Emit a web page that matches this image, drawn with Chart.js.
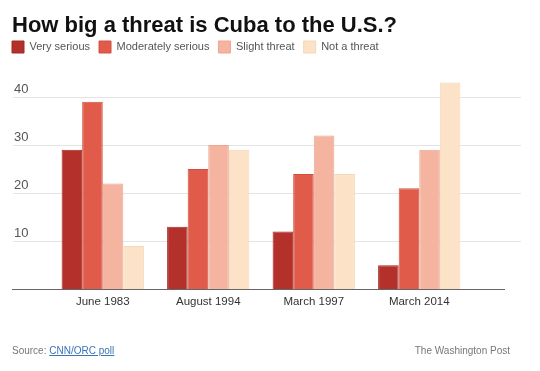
<!DOCTYPE html>
<html>
<head>
<meta charset="utf-8">
<script src="https://cdn.jsdelivr.net/npm/chart.js@4"></script>
<style>
    body { margin: 0; background: #fff; }
    #wrap { position: relative; width: 540px; height: 371px; }
    #footer { position: absolute; left: 12px; right: 30px; top: 345px; font: 10px "Liberation Sans", Arial, sans-serif; color: #777; }
    #footer a { color: #3a74b8; text-decoration: underline; }
    #footer .right { position: absolute; right: 0; top: 0; }
</style>
</head>
<body>
<div id="wrap">
    <canvas id="cubaChart" width="540" height="371"></canvas>
    <div id="footer">Source: <a href="#">CNN/ORC poll</a><span class="right">The Washington Post</span></div>
</div>
<script>
// Change Label & Data Set Here
var labels = ['June 1983', 'August 1994', 'March 1997', 'March 2014'];
var verySerious = [29, 13, 12, 5];
var moderatelySerious = [39, 25, 24, 21];
var slightThreat = [22, 30, 32, 29];
var notThreat = [9, 29, 24, 43];
var yTicks = [10, 20, 30, 40];

/**
 * One bar series
 */
function barSet(label, data, color, border) {
    return {
        label: label,
        data: data,
        backgroundColor: color,
        borderColor: border,
        borderWidth: 1,
        categoryPercentage: 0.78,
        barPercentage: 1.0,
    };
}

// grid lines, y labels and base line drawn wider than the bar area
const wideGrid = {
    id: 'wideGrid',
    afterLayout(chart) {
        // pull the legend flush with the title
        chart.legend.left -= 9;
    },
    beforeDatasetsDraw(chart) {
        const { ctx } = chart;
        const y = chart.scales.y;
        ctx.save();
        ctx.strokeStyle = '#e4e4e4';
        ctx.lineWidth = 1;
        ctx.fillStyle = '#555';
        ctx.font = '13px "Liberation Sans", Arial, sans-serif';
        ctx.textBaseline = 'bottom';
        ctx.textAlign = 'left';
        yTicks.forEach(function (t) {
            const py = Math.round(y.getPixelForValue(t)) + 0.5;
            ctx.beginPath();
            ctx.moveTo(13, py);
            ctx.lineTo(521, py);
            ctx.stroke();
            ctx.fillText(String(t), 14, py - 2);
        });
        ctx.restore();
    },
    afterDatasetsDraw(chart) {
        const { ctx } = chart;
        const py = Math.round(chart.scales.y.getPixelForValue(0)) + 0.5;
        ctx.save();
        ctx.strokeStyle = '#666';
        ctx.lineWidth = 1.2;
        ctx.beginPath();
        ctx.moveTo(12, py);
        ctx.lineTo(505, py);
        ctx.stroke();
        ctx.restore();
    }
};

const font = '"Liberation Sans", Arial, sans-serif';

const cubaChart = new Chart(document.getElementById('cubaChart'), {
    type: 'bar',
    data: {
        labels: labels,
        datasets: [
            barSet('Very serious', verySerious, '#b3312a', '#a02922'),
            barSet('Moderately serious', moderatelySerious, '#e15b4a', '#d44f3f'),
            barSet('Slight threat', slightThreat, '#f5b4a0', '#eba690'),
            barSet('Not a threat', notThreat, '#fce2c6', '#f4d6b8'),
        ]
    },
    options: {
        responsive: false,
        animation: false,
        layout: {
            padding: { left: 12, right: 20, top: 0, bottom: 64 }
        },
        plugins: {
            title: {
                display: true,
                text: 'How big a threat is Cuba to the U.S.?',
                align: 'start',
                color: '#111',
                font: { family: font, size: 22, weight: 'bold', lineHeight: 1 },
                padding: { top: 15, bottom: -5 },
            },
            legend: {
                align: 'start',
                labels: {
                    boxWidth: 12,
                    boxHeight: 12,
                    padding: 9,
                    color: '#555',
                    font: { family: font, size: 11 },
                },
            },
            tooltip: { enabled: false },
        },
        scales: {
            x: {
                grid: { display: false },
                border: { display: false },
                ticks: {
                    color: '#333',
                    padding: -2,
                    font: { family: font, size: 11.5 },
                },
            },
            xTop: {
                position: 'top',
                grid: { display: false },
                border: { display: false },
                ticks: { display: false },
                afterFit: function (scale) { scale.height = 10; },
            },
            y: {
                position: 'left',
                min: 0,
                max: 45,
                grid: { display: false },
                border: { display: false },
                ticks: { display: false },
                afterFit: function (scale) { scale.width = 38; },
            },
            yRight: {
                position: 'right',
                grid: { display: false },
                border: { display: false },
                ticks: { display: false },
                afterFit: function (scale) { scale.width = 48; },
            }
        }
    },
    plugins: [wideGrid]
});
</script>
</body>
</html>
